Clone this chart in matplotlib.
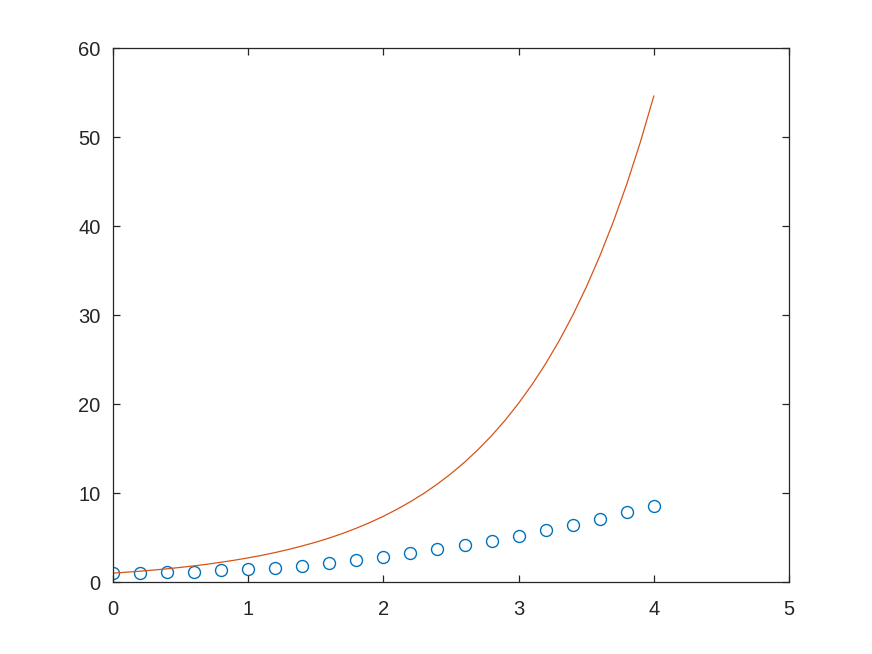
import numpy as np
import matplotlib
matplotlib.use('Agg')
import matplotlib.pyplot as plt

plt.rcParams['font.family'] = ['Liberation Sans', 'DejaVu Sans']

# red curve, read at 0.1 steps
x_line = [0.0, 0.1, 0.2, 0.3, 0.4, 0.5, 0.6, 0.7, 0.8, 0.9, 1.0,
          1.1, 1.2, 1.3, 1.4, 1.5, 1.6, 1.7, 1.8, 1.9, 2.0,
          2.1, 2.2, 2.3, 2.4, 2.5, 2.6, 2.7, 2.8, 2.9, 3.0,
          3.1, 3.2, 3.3, 3.4, 3.5, 3.6, 3.7, 3.8, 3.9, 4.0]
y_line = [1.0, 1.11, 1.22, 1.35, 1.49, 1.65, 1.82, 2.01, 2.23, 2.46, 2.72,
          3.0, 3.32, 3.67, 4.06, 4.48, 4.95, 5.47, 6.05, 6.69, 7.39,
          8.17, 9.03, 9.97, 11.02, 12.18, 13.46, 14.88, 16.44, 18.17, 20.09,
          22.2, 24.53, 27.11, 29.96, 33.12, 36.6, 40.45, 44.7, 49.4, 54.6]

# blue circles
x_pts = [0.0, 0.2, 0.4, 0.6, 0.8, 1.0, 1.2, 1.4, 1.6, 1.8, 2.0,
         2.2, 2.4, 2.6, 2.8, 3.0, 3.2, 3.4, 3.6, 3.8, 4.0]
y_pts = [1.0, 1.02, 1.08, 1.18, 1.3, 1.42, 1.57, 1.83, 2.1, 2.43, 2.77,
         3.22, 3.67, 4.12, 4.6, 5.13, 5.8, 6.4, 7.08, 7.83, 8.58]

fig = plt.figure(figsize=(8.72, 6.54), dpi=100)
ax = fig.add_axes([0.1296, 0.11, 0.7752, 0.8166])

ax.plot(x_pts, y_pts, 'o', markerfacecolor='none', markeredgecolor='#0072BD',
        markersize=8.6, markeredgewidth=1.0)
ax.plot(x_line, y_line, '-', color='#D95319', linewidth=0.9)

ax.set_xlim(0, 5)
ax.set_ylim(0, 60)
ax.set_xticks([0, 1, 2, 3, 4, 5])
ax.set_yticks([0, 10, 20, 30, 40, 50, 60])

for s in ax.spines.values():
    s.set_color('#262626')
    s.set_linewidth(0.9)
ax.tick_params(direction='in', top=True, right=True, length=5, width=0.9,
               color='#262626', labelcolor='#262626', labelsize=14.5)
ax.tick_params(axis='y', pad=9)
ax.tick_params(axis='x', pad=13)

fig.savefig('out.png', dpi=100)
